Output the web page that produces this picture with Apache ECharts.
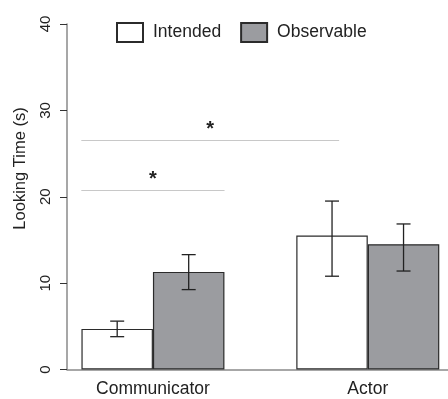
<!DOCTYPE html>
<html>
<head>
<meta charset="utf-8">
<script src="https://cdn.jsdelivr.net/npm/echarts@6/dist/echarts.min.js"></script>
<style>html,body{margin:0;padding:0;background:#fff}#c{width:448px;height:399px}</style>
</head>
<body>
<div id="c"></div>
<script>
// ---- data ----
var categories = ['Communicator', 'Actor'];
var groupPos = [2, 5];               // group centre positions (barplot units)
var seriesNames = ['Intended', 'Observable'];
var intended = [4.7, 15.5];
var intendedLo = [3.8, 10.8];
var intendedHi = [5.6, 19.5];
var observable = [11.3, 14.5];
var observableLo = [9.25, 11.4];
var observableHi = [13.3, 16.85];
var yTicks = [0, 10, 20, 30, 40];
// significance brackets: [xStart, xEnd, y, label]
var sigStart = [1, 1];
var sigEnd = [3, 4.6];
var sigY = [20.75, 26.5];
var sigLabel = ['*', '*'];

// ---- styles ----
var BAR_W = 71.5;
var FONT = 'Liberation Sans, Arial, Helvetica, sans-serif';
var chart = echarts.init(document.getElementById('c'), null, {renderer: 'canvas'});

function errData(pos, lo, hi) {
  return pos.map(function (p, i) { return [p, lo[i], hi[i]]; });
}
function errRender(side) {
  return function (params, api) {
    var x = api.value(0), lo = api.value(1), hi = api.value(2);
    var pLo = api.coord([x, lo]), pHi = api.coord([x, hi]);
    var cx = pLo[0] + side * BAR_W / 2;
    var cap = 7;
    var st = {stroke: '#222', lineWidth: 1.3};
    return {type: 'group', children: [
      {type: 'line', shape: {x1: cx, y1: pLo[1], x2: cx, y2: pHi[1]}, style: st},
      {type: 'line', shape: {x1: cx - cap, y1: pLo[1], x2: cx + cap, y2: pLo[1]}, style: st},
      {type: 'line', shape: {x1: cx - cap, y1: pHi[1], x2: cx + cap, y2: pHi[1]}, style: st}
    ]};
  };
}

var markData = sigStart.map(function (s, i) {
  return [{coord: [s, sigY[i]], label: {formatter: sigLabel[i]}}, {coord: [sigEnd[i], sigY[i]]}];
});

var option = {
  animation: false,
  textStyle: {fontFamily: FONT},
  grid: {left: 67, right: 0, top: 24, bottom: 29.5},
  legend: {
    left: 116, top: 22, padding: 0, itemWidth: 26, itemHeight: 19, itemGap: 19,
    icon: 'rect',
    textStyle: {fontSize: 17.5, color: '#222', fontFamily: FONT, padding: [0, 0, 0, 5]},
    data: seriesNames
  },
  xAxis: {
    type: 'value', min: 0.8, max: 6.12,
    splitLine: {show: false},
    axisTick: {show: false},
    axisLine: {show: true, lineStyle: {color: '#8a8a8a', width: 1.5}},
    axisLabel: {
      customValues: groupPos,
      formatter: function (v) { var i = groupPos.indexOf(v); return i >= 0 ? categories[i] : ''; },
      fontSize: 17.5, color: '#222', margin: 11, fontFamily: FONT
    }
  },
  yAxis: {
    type: 'value', min: 0, max: 40, interval: 10,
    splitLine: {show: false},
    axisLine: {show: true, lineStyle: {color: '#8a8a8a', width: 1.5}},
    axisTick: {show: true, length: 7, lineStyle: {color: '#333', width: 1}},
    axisLabel: {
      rotate: 90, fontSize: 15, color: '#222', margin: 14, fontFamily: FONT,
      customValues: yTicks
    }
  },
  graphic: [{
    type: 'text', x: 20, y: 168.5, rotation: Math.PI / 2,
    style: {text: 'Looking Time (s)', fontSize: 16.5, fill: '#222', fontFamily: FONT,
      align: 'center', verticalAlign: 'middle'}
  }],
  series: [
    {
      name: seriesNames[0], type: 'bar', barWidth: BAR_W, barGap: '0%',
      data: groupPos.map(function (p, i) { return [p, intended[i]]; }),
      itemStyle: {color: '#ffffff', borderColor: '#2b2b2b', borderWidth: 1.2}
    },
    {
      name: seriesNames[1], type: 'bar', barWidth: BAR_W, barGap: '0%',
      data: groupPos.map(function (p, i) { return [p, observable[i]]; }),
      itemStyle: {color: '#9b9ca0', borderColor: '#2b2b2b', borderWidth: 1.2}
    },
    {
      type: 'custom', name: 'errIntended', z: 5,
      renderItem: errRender(-1), data: errData(groupPos, intendedLo, intendedHi),
      encode: {x: 0, y: [1, 2]},
      markLine: {
        silent: true, symbol: 'none',
        lineStyle: {color: '#c8c8c8', width: 1, type: 'solid'},
        label: {position: 'middle', fontSize: 20, fontWeight: 'bold', color: '#222', distance: 1},
        data: markData
      }
    },
    {
      type: 'custom', name: 'errObservable', z: 5,
      renderItem: errRender(1), data: errData(groupPos, observableLo, observableHi),
      encode: {x: 0, y: [1, 2]}
    }
  ]
};
chart.setOption(option);
</script>
</body>
</html>
